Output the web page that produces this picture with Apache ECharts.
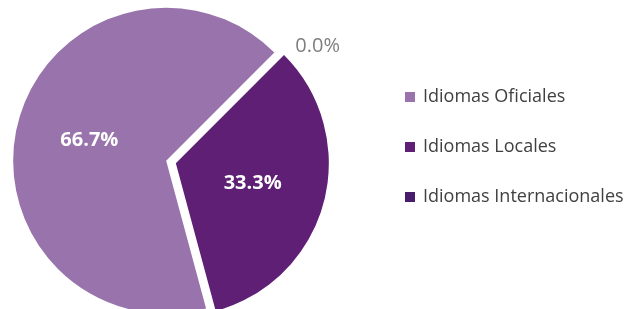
<!DOCTYPE html>
<html>
<head>
<meta charset="utf-8">
<script src="https://cdn.jsdelivr.net/npm/echarts@6/dist/echarts.min.js"></script>
<style>
    html, body { margin: 0; padding: 0; background: #fff; }
    #chart { width: 625px; height: 309px; }
</style>
</head>
<body>
<div id="chart"></div>
<script>
(function () {

    'use strict';

    var categories = ['Idiomas Oficiales', 'Idiomas Locales', 'Idiomas Internacionales'];
    var values = [66.7, 33.3, 0.0];
    var colors = ['#9873ac', '#5e1f74', '#4a1c6c'];

    var chart = echarts.init(document.getElementById('chart'));

    var data = categories.map(function (name, i) {
        var item = {
            name: name,
            value: values[i],
            selected: values[i] > 0,
            itemStyle: { color: colors[i] }
        };
        if (values[i] === 0) {
            item.label = {
                position: 'outside',
                color: '#7f7f7f',
                fontWeight: 'normal',
                fontSize: 20
            };
        }
        return item;
    });

    var option = {
        animation: false,
        legend: {
            orient: 'vertical',
            left: 400,
            top: 83,
            itemWidth: 10,
            itemHeight: 10,
            itemGap: 32,
            icon: 'rect',
            data: categories,
            textStyle: {
                color: '#404040',
                fontSize: 18,
                lineHeight: 18,
                fontFamily: 'Open Sans',
                padding: [0, 0, 0, 3]
            }
        },
        series: [{
            type: 'pie',
            center: [171, 162],
            radius: 153,
            startAngle: 45,
            clockwise: false,
            selectedMode: 'multiple',
            selectedOffset: 5,
            avoidLabelOverlap: false,
            label: {
                show: true,
                position: 'inside',
                color: '#ffffff',
                fontWeight: 'bold',
                fontSize: 20,
                fontFamily: 'Open Sans',
                formatter: function (p) {
                    return p.value.toFixed(1) + '%';
                }
            },
            labelLine: { show: false, length: 10, length2: 4 },
            emphasis: { disabled: true },
            data: data
        }]
    };

    chart.setOption(option);
}) ();
</script>
</body>
</html>
